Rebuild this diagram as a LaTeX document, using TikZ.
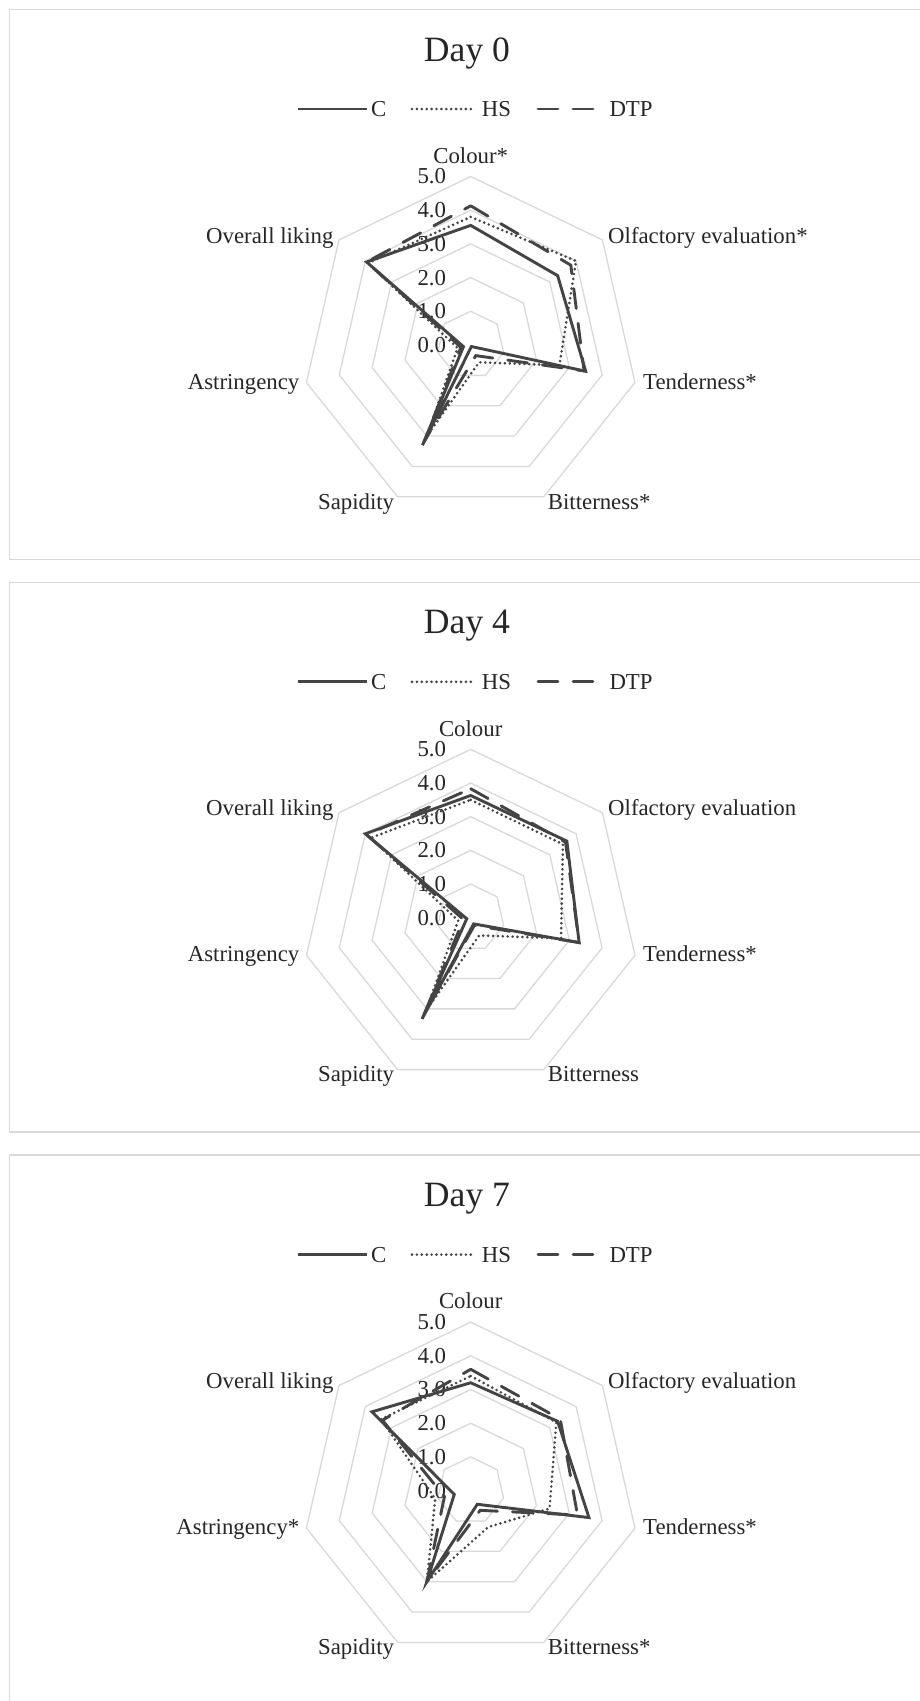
\documentclass[tikz,border=0pt]{standalone}
\usepackage{fontspec}
\setmainfont{Liberation Serif}
\usetikzlibrary{positioning}
\definecolor{gridgray}{HTML}{D9D9D9}
\definecolor{linegray}{HTML}{444444}
\definecolor{textgray}{HTML}{262626}
\tikzset{
    %Define style for the frame of each chart
    chartframe/.style={
           draw=gridgray,
           line width=1.5pt},
    %Define style for the rings of the web
    ring/.style={
           draw=gridgray,
           line width=1.3pt},
    %Define styles for texts
    daytitle/.style={
           text=textgray,
           inner sep=0pt,
           font=\fontsize{35.6}{40}\selectfont},
    axlabel/.style={
           text=textgray,
           inner sep=0pt,
           font=\fontsize{22.8}{26}\selectfont},
    % Define styles for the three series
    serC/.style={
           draw=linegray,
           line width=2.9pt},
    serHS/.style={
           draw=linegray,
           line width=2.9pt,
           line cap=round,
           dash pattern=on 0pt off 4.9pt},
    serDTP/.style={
           draw=linegray,
           line width=2.9pt,
           line cap=round,
           dash pattern=on 20pt off 15pt}
}

\begin{document}
\begin{tikzpicture}[x=1pt,y=-1pt]
\useasboundingbox (0,0) rectangle (920,1701);
\clip (0,0) rectangle (920,1701);
\fill[white] (0,0) rectangle (920,1701);

 %frames, titles, legends, rings and ticks
\foreach \p/\day in {0/0,1/4,2/7}{
  \begin{scope}[shift={(0,\p*572.8)}]
    \draw[chartframe] (9.5,9.5) rectangle (950,559.3);
    \node[daytitle, anchor=base] (title\p) at (467,61) {Day \day};
    % legend
    \coordinate (lgC\p a) at (298.3,109);
    \coordinate (lgC\p b) at (366.7,109);
    \coordinate (lgHS\p a) at (412,109);
    \coordinate (lgHS\p b) at (472,109);
    \coordinate (lgDTP\p a) at (538,109);
    \coordinate (lgDTP\p b) at (595,109);
    \draw[serC] (lgC\p a) -- (lgC\p b);
    \draw[serHS] (lgHS\p a) -- (lgHS\p b);
    \draw[serDTP] (lgDTP\p a) -- (lgDTP\p b);
    \node[axlabel, right=4.3pt of lgC\p b] (nC\p) {C};
    \node[axlabel, right=9.7pt of lgHS\p b] (nHS\p) {HS};
    \node[axlabel, right=14.3pt of lgDTP\p b] (nDTP\p) {DTP};
    % web
    \begin{scope}[shift={(470.7,345)}, x=33.7pt, y=-33.7pt]
      \foreach \r in {1,...,5}
        \draw[ring] (-90:\r) \foreach \k in {1,...,6}{ -- ({\k*360/7-90}:\r)} -- cycle;
      \foreach \r in {0,...,5}
        \node[axlabel, anchor=east] (tick\p-\r) at (-0.727,-\r) {\r.0};
    \end{scope}
  \end{scope}
}

 %Day 0
\begin{scope}[shift={(0,0)}]
  \node[axlabel, anchor=base] (col0) at (470.7,163.3) {Colour*};
  \node[axlabel, anchor=base west] (olf0) at (608,243) {Olfactory evaluation*};
  \node[axlabel, anchor=base west] (ten0) at (643,389) {Tenderness*};
  \node[axlabel, anchor=base west] (bit0) at (547.7,509) {Bitterness*};
  \node[axlabel, anchor=base east] (sap0) at (394.3,509) {Sapidity};
  \node[axlabel, anchor=base east] (ast0) at (299.5,389) {Astringency};
  \node[axlabel, anchor=base east] (ovl0) at (333.7,243) {Overall liking};
  \begin{scope}[shift={(470.7,345)}, x=33.7pt, y=-33.7pt]
    \foreach \v [count=\k from 0] in {3.55,3.30,3.50,0.05,3.30,0.22,3.95}
      \coordinate (C0-\k) at ({\k*360/7-90}:\v);
    \foreach \v [count=\k from 0] in {3.80,4.00,2.70,0.57,3.00,0.40,3.90}
      \coordinate (HS0-\k) at ({\k*360/7-90}:\v);
    \foreach \v [count=\k from 0] in {4.13,3.80,3.45,0.35,3.15,0.30,3.95}
      \coordinate (DTP0-\k) at ({\k*360/7-90}:\v);
    \draw[serC] (C0-0) \foreach \k in {1,...,6}{ -- (C0-\k)} -- cycle;
    \draw[serHS] (HS0-0) \foreach \k in {1,...,6}{ -- (HS0-\k)} -- cycle;
    \draw[serDTP] (DTP0-0) \foreach \k in {1,...,6}{ -- (DTP0-\k)} -- cycle;
  \end{scope}
\end{scope}

 %Day 4
\begin{scope}[shift={(0,572.8)}]
  \node[axlabel, anchor=base] (col1) at (470.7,163.3) {Colour};
  \node[axlabel, anchor=base west] (olf1) at (608,243) {Olfactory evaluation};
  \node[axlabel, anchor=base west] (ten1) at (643,389) {Tenderness*};
  \node[axlabel, anchor=base west] (bit1) at (547.7,509) {Bitterness};
  \node[axlabel, anchor=base east] (sap1) at (394.3,509) {Sapidity};
  \node[axlabel, anchor=base east] (ast1) at (299.5,389) {Astringency};
  \node[axlabel, anchor=base east] (ovl1) at (333.7,243) {Overall liking};
  \begin{scope}[shift={(470.7,345)}, x=33.7pt, y=-33.7pt]
    \foreach \v [count=\k from 0] in {3.63,3.65,3.30,0.20,3.33,0.12,4.00}
      \coordinate (C1-\k) at ({\k*360/7-90}:\v);
    \foreach \v [count=\k from 0] in {3.50,3.50,2.75,0.58,3.05,0.38,3.80}
      \coordinate (HS1-\k) at ({\k*360/7-90}:\v);
    \foreach \v [count=\k from 0] in {3.83,3.60,3.30,0.25,3.20,0.22,3.95}
      \coordinate (DTP1-\k) at ({\k*360/7-90}:\v);
    \draw[serC] (C1-0) \foreach \k in {1,...,6}{ -- (C1-\k)} -- cycle;
    \draw[serHS] (HS1-0) \foreach \k in {1,...,6}{ -- (HS1-\k)} -- cycle;
    \draw[serDTP] (DTP1-0) \foreach \k in {1,...,6}{ -- (DTP1-\k)} -- cycle;
  \end{scope}
\end{scope}

 %Day 7
\begin{scope}[shift={(0,1145.6)}]
  \node[axlabel, anchor=base] (col2) at (470.7,163.3) {Colour};
  \node[axlabel, anchor=base west] (olf2) at (608,243) {Olfactory evaluation};
  \node[axlabel, anchor=base west] (ten2) at (643,389) {Tenderness*};
  \node[axlabel, anchor=base west] (bit2) at (547.7,509) {Bitterness*};
  \node[axlabel, anchor=base east] (sap2) at (394.3,509) {Sapidity};
  \node[axlabel, anchor=base east] (ast2) at (299.5,389) {Astringency*};
  \node[axlabel, anchor=base east] (ovl2) at (333.7,243) {Overall liking};
  \begin{scope}[shift={(470.7,345)}, x=33.7pt, y=-33.7pt]
    \foreach \v [count=\k from 0] in {3.20,3.30,3.60,0.45,3.00,0.50,3.75}
      \coordinate (C2-\k) at ({\k*360/7-90}:\v);
    \foreach \v [count=\k from 0] in {3.40,3.25,2.40,1.20,3.00,1.08,3.40}
      \coordinate (HS2-\k) at ({\k*360/7-90}:\v);
    \foreach \v [count=\k from 0] in {3.60,3.40,3.25,0.65,3.00,0.80,3.35}
      \coordinate (DTP2-\k) at ({\k*360/7-90}:\v);
    \draw[serC] (C2-0) \foreach \k in {1,...,6}{ -- (C2-\k)} -- cycle;
    \draw[serHS] (HS2-0) \foreach \k in {1,...,6}{ -- (HS2-\k)} -- cycle;
    \draw[serDTP] (DTP2-0) \foreach \k in {1,...,6}{ -- (DTP2-\k)} -- cycle;
  \end{scope}
\end{scope}

\end{tikzpicture}
\end{document}
